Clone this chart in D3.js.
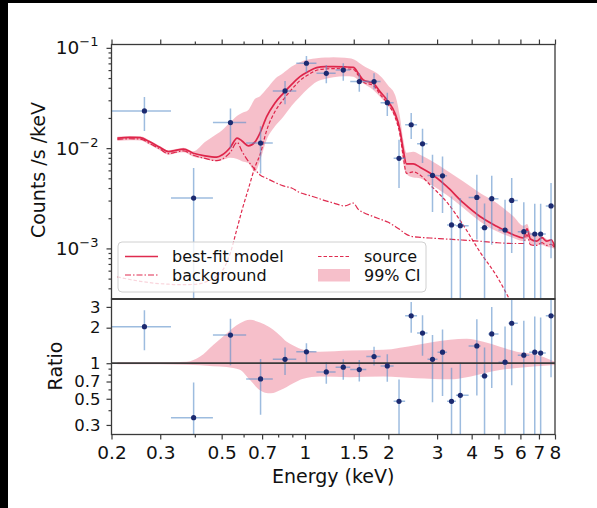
<!DOCTYPE html>
<html>
<head>
<meta charset="utf-8">
<script src="https://cdn.jsdelivr.net/npm/d3@7"></script>
<style>
body { margin: 0; background: #fff; }
svg { display: block; font-family: "DejaVu Sans", sans-serif; }
</style>
</head>
<body>
<script>
// 観測データ (ビン中心, ビン端, カウント, 誤差)
var energy = [0.263, 0.396, 0.538, 0.691, 0.847, 1.012, 1.194, 1.375, 1.571, 1.776, 1.983, 2.186, 2.419, 2.658,
	2.888, 3.139, 3.383, 3.640, 4.176, 4.452, 4.727, 5.28, 5.581, 6.172, 6.76, 7.10, 7.74];
var binEdges = [0.2, 0.328, 0.465, 0.613, 0.765, 0.930, 1.100, 1.290, 1.457, 1.665, 1.875, 2.09, 2.30, 2.54,
	2.77, 3.01, 3.26, 3.51, 3.90, 4.31, 4.59, 5.00, 5.43, 5.87, 6.46, 6.93, 7.41, 8.0];
var counts = [0.0235, 0.00318, 0.0180, 0.01122, 0.0372, 0.0702, 0.0557, 0.0601, 0.0461, 0.0461, 0.0284, 0.00792,
	0.0171, 0.01104, 0.00534, 0.00530, 0.001714, 0.001686, 0.003225, 0.00161, 0.00313, 0.001527, 0.00301,
	0.001469, 0.001393, 0.001393, 0.00265];
var countsHi = [0.0324, 0.00632, 0.0248, 0.01657, 0.0467, 0.0829, 0.0675, 0.0702, 0.0557, 0.0557, 0.0357, 0.0121,
	0.0224, 0.0156, 0.00858, 0.00825, 0.0033, 0.00318, 0.00542, 0.0028, 0.0053, 0.00306, 0.00503,
	0.00288, 0.00279, 0.00279, 0.00449];
var countsLo = [0.01486, 0.0001, 0.0100, 0.00557, 0.0274, 0.0569, 0.0443, 0.0471, 0.0366, 0.0387, 0.0209, 0.0040,
	0.0123, 0.0071, 0.00231, 0.00225, 0.0001, 0.0001, 0.00123, 0.0001, 0.00109, 0.0001, 0.00090,
	0.0001, 0.0001, 0.0001, 0.00080];
var ratio = [2.04, 0.346, 1.73, 0.736, 1.08, 1.25, 0.844, 0.925, 0.883, 1.14, 0.949, 0.476, 2.52, 1.80,
	1.08, 1.24, 0.476, 0.535, 1.40, 0.78, 1.77, 1.02, 2.18, 1.17, 1.24, 1.22, 2.52];

// モデル曲線 (エネルギーグリッド)
var modelE = [0.21, 0.233, 0.254, 0.275, 0.299, 0.321, 0.341, 0.364, 0.395, 0.435, 0.48, 0.503, 0.536, 0.569,
	0.592, 0.624, 0.66, 0.688, 0.727, 0.779, 0.835, 0.895, 0.959, 1.028, 1.102, 1.181, 1.266, 1.394, 1.495,
	1.558, 1.624, 1.765, 1.866, 2.0, 2.114, 2.203, 2.265, 2.326, 2.46, 2.603, 2.829, 3.25, 3.734, 4.288,
	4.925, 5.656, 6.15, 6.34, 6.52, 6.86, 7.18, 7.46, 7.75, 8.0];
var bestFit = [0.01258, 0.0128, 0.0127, 0.01155, 0.0102, 0.00925, 0.00951, 0.00977, 0.0089, 0.00838, 0.00813,
	0.00858, 0.0101, 0.01258, 0.0118, 0.01054, 0.01155, 0.0142, 0.0206, 0.0282, 0.0352, 0.0432, 0.0516,
	0.0581, 0.0634, 0.0649, 0.0649, 0.0645, 0.064, 0.0557, 0.0478, 0.0443, 0.0366, 0.0291, 0.0223, 0.0152,
	0.0096, 0.00698, 0.00698, 0.00644, 0.00564, 0.00415, 0.00284, 0.00208, 0.00166, 0.00137, 0.00127,
	0.00157, 0.00124, 0.00118, 0.00128, 0.00118, 0.00122, 0.001026];
var source = [5.2e-4, 4.9e-4, 4.7e-4, 4.55e-4, 4.45e-4, 4.4e-4, 4.35e-4, 4.35e-4, 4.37e-4, 4.6e-4, 5.3e-4,
	6.0e-4, 8.8e-4, 0.0016, 0.0024, 0.0039, 0.0065, 0.0086, 0.0150, 0.0232, 0.0305, 0.0385, 0.0472, 0.0540,
	0.0598, 0.0616, 0.0620, 0.0617, 0.0610, 0.0530, 0.0454, 0.0421, 0.0345, 0.0272, 0.0205, 0.0136, 0.0082,
	0.0056, 0.0058, 0.0054, 0.0043, 0.0029, 0.0017, 0.00092, 0.00053, 0.00026, 0.00016, 0.00013, 0.00011,
	8e-5, 6e-5, 5e-5, 4e-5, 3e-5];
var background = [0.0122, 0.0124, 0.0123, 0.0111, 0.0098, 0.0088, 0.0091, 0.0094, 0.0085, 0.0079, 0.0075,
	0.0078, 0.0090, 0.0114, 0.0093, 0.0074, 0.0061, 0.0054, 0.0050, 0.00455, 0.0042, 0.0040, 0.0036, 0.0034,
	0.0032, 0.0030, 0.00284, 0.00265, 0.00283, 0.00245, 0.00228, 0.00208, 0.00196, 0.00182, 0.00166,
	0.00154, 0.00145, 0.00138, 0.00131, 0.00129, 0.00127, 0.00124, 0.00121, 0.00118, 0.00114, 0.00112,
	0.00112, 0.00137, 0.00109, 0.00107, 0.00114, 0.00107, 0.00110, 0.00100];
var ciHi = [0.0130, 0.0132, 0.0131, 0.0119, 0.0105, 0.0095, 0.0098, 0.0101, 0.0093, 0.0115, 0.0138, 0.0152,
	0.0180, 0.0210, 0.0224, 0.0240, 0.0310, 0.0330, 0.0390, 0.0490, 0.0560, 0.0650, 0.0720, 0.0765, 0.0787,
	0.0800, 0.0808, 0.0795, 0.0770, 0.0720, 0.0664, 0.0587, 0.0528, 0.0420, 0.0340, 0.0206, 0.0121, 0.0090,
	0.0092, 0.0086, 0.0076, 0.0060, 0.00466, 0.00357, 0.00284, 0.00209, 0.00168, 0.00175, 0.00145, 0.00135,
	0.00132, 0.00124, 0.00120, 0.00112];
var ciLo = [0.0118, 0.0120, 0.0119, 0.0108, 0.0095, 0.0086, 0.0089, 0.0091, 0.0082, 0.0078, 0.0074, 0.0076,
	0.0080, 0.0078, 0.0074, 0.0071, 0.0058, 0.0075, 0.0121, 0.0165, 0.0206, 0.0265, 0.0326, 0.0395, 0.0460,
	0.0490, 0.0510, 0.0520, 0.0515, 0.0480, 0.0440, 0.0380, 0.0326, 0.0262, 0.0200, 0.0130, 0.0070, 0.0055,
	0.0051, 0.0050, 0.0044, 0.0034, 0.00253, 0.00186, 0.00148, 0.00127, 0.00118, 0.00125, 0.00112, 0.00108,
	0.00108, 0.00104, 0.00102, 0.00098];

// 比の信頼区間
var ratioBandE = [0.21, 0.30, 0.374, 0.418, 0.466, 0.521, 0.582, 0.633, 0.688, 0.737, 0.768, 0.812, 0.859,
	0.907, 0.986, 1.133, 1.454, 1.918, 2.531, 3.34, 3.837, 4.41, 5.06, 5.82, 6.68, 8.0];
var ratioBandHi = [1.02, 1.02, 1.03, 1.14, 1.43, 1.79, 2.18, 2.33, 2.21, 2.05, 1.92, 1.72, 1.52, 1.41, 1.30,
	1.25, 1.28, 1.30, 1.43, 1.58, 1.61, 1.52, 1.38, 1.25, 1.20, 1.03];
var ratioBandLo = [0.98, 0.98, 0.97, 0.96, 0.945, 0.93, 0.88, 0.72, 0.59, 0.557, 0.56, 0.59, 0.63, 0.677,
	0.74, 0.77, 0.76, 0.77, 0.746, 0.73, 0.76, 0.82, 0.877, 0.91, 0.936, 0.967];

// 目盛り
var xMajor = [0.2, 0.3, 0.5, 0.7, 1, 1.5, 2, 3, 4, 5, 6, 7, 8];
var xMajorLabels = ["0.2", "0.3", "0.5", "0.7", "1", "1.5", "2", "3", "4", "5", "6", "7", "8"];
var xMinor = [0.4, 0.6, 0.8, 0.9];
var yTopMajor = [1e-3, 1e-2, 1e-1];
var yTopExp = ["\u22123", "\u22122", "\u22121"];
var yRatMajor = [0.3, 0.5, 0.7, 1, 2, 3];
var yRatLabels = ["0.3", "0.5", "0.7", "1", "2", "3"];
var yRatMinor = [0.4, 0.6, 0.8, 0.9];

var RED = "#dc143c", BLUE = "#5b8fc9", NAVY = "#1c2a70", AXIS = "#3a3a3a";
var box = {left: 111.5, right: 555, top: 44.5, mid: 299, bottom: 434.5};

var svg = d3.select("body").append("svg")
	.attr("width", 597)
	.attr("height", 508);
svg.append("rect").attr("width", 597).attr("height", 508).attr("fill", "#fff");
// 画像の黒い縁
svg.append("rect").attr("x", 0).attr("y", 0).attr("width", 8).attr("height", 508).attr("fill", "#000");
svg.append("rect").attr("x", 0).attr("y", 0).attr("width", 597).attr("height", 3).attr("fill", "#000");

var x = d3.scaleLog().domain([0.2, 8]).range([box.left, box.right]);
var yTop = d3.scaleLog().domain([3.13e-4, 0.108]).range([box.mid, box.top]);
var yRat = d3.scaleLog().domain([0.249, 3.5]).range([box.bottom, box.mid]);

var defs = svg.append("defs");
defs.append("clipPath").attr("id", "clipTop").append("rect")
	.attr("x", box.left).attr("y", box.top)
	.attr("width", box.right - box.left).attr("height", box.mid - box.top);
defs.append("clipPath").attr("id", "clipRat").append("rect")
	.attr("x", box.left).attr("y", box.mid)
	.attr("width", box.right - box.left).attr("height", box.bottom - box.mid);

var gTop = svg.append("g").attr("clip-path", "url(#clipTop)");
var gRat = svg.append("g").attr("clip-path", "url(#clipRat)");
var idx = d3.range(modelE.length);

// 上段: 99% CI
gTop.append("path")
	.datum(idx)
	.attr("fill", RED)
	.attr("fill-opacity", 0.27)
	.attr("d", d3.area()
		.x(function(i){ return x(modelE[i]); })
		.y0(function(i){ return yTop(ciLo[i]); })
		.y1(function(i){ return yTop(ciHi[i]); })
		.curve(d3.curveMonotoneX));

// モデル線 (背景, ソース, ベストフィット)
function modelLine(arr){
	return d3.line()
		.x(function(i){ return x(modelE[i]); })
		.y(function(i){ return yTop(arr[i]); })
		.curve(d3.curveMonotoneX);
}
gTop.append("path").datum(idx)
	.attr("fill", "none").attr("stroke", RED).attr("stroke-opacity", 0.9)
	.attr("stroke-width", 1.2).attr("stroke-dasharray", "6,2,1.5,2")
	.attr("d", modelLine(background));
gTop.append("path").datum(idx)
	.attr("fill", "none").attr("stroke", RED).attr("stroke-opacity", 0.9)
	.attr("stroke-width", 1.2).attr("stroke-dasharray", "3.5,2")
	.attr("d", modelLine(source));
gTop.append("path").datum(idx)
	.attr("fill", "none").attr("stroke", RED).attr("stroke-opacity", 0.9)
	.attr("stroke-width", 1.7)
	.attr("d", modelLine(bestFit));

// 上段: データ点
var pts = d3.range(energy.length);
gTop.selectAll(".vbar").data(pts).enter().append("line")
	.attr("x1", function(i){ return x(energy[i]); })
	.attr("x2", function(i){ return x(energy[i]); })
	.attr("y1", function(i){ return yTop(countsLo[i]); })
	.attr("y2", function(i){ return yTop(countsHi[i]); })
	.attr("stroke", BLUE).attr("stroke-opacity", 0.6).attr("stroke-width", 1.5);
gTop.selectAll(".hbar").data(pts).enter().append("line")
	.attr("x1", function(i){ return x(binEdges[i]); })
	.attr("x2", function(i){ return x(binEdges[i + 1]); })
	.attr("y1", function(i){ return yTop(counts[i]); })
	.attr("y2", function(i){ return yTop(counts[i]); })
	.attr("stroke", BLUE).attr("stroke-opacity", 0.6).attr("stroke-width", 1.5);
gTop.selectAll(".dot").data(pts).enter().append("circle")
	.attr("cx", function(i){ return x(energy[i]); })
	.attr("cy", function(i){ return yTop(counts[i]); })
	.attr("r", 2.6)
	.attr("fill", NAVY);

// 下段: 比
var rIdx = d3.range(ratioBandE.length);
gRat.append("path")
	.datum(rIdx)
	.attr("fill", RED)
	.attr("fill-opacity", 0.27)
	.attr("d", d3.area()
		.x(function(i){ return x(ratioBandE[i]); })
		.y0(function(i){ return yRat(ratioBandLo[i]); })
		.y1(function(i){ return yRat(ratioBandHi[i]); })
		.curve(d3.curveMonotoneX));
gRat.selectAll(".vbar").data(pts).enter().append("line")
	.attr("x1", function(i){ return x(energy[i]); })
	.attr("x2", function(i){ return x(energy[i]); })
	.attr("y1", function(i){ return yRat(ratio[i] * countsLo[i] / counts[i]); })
	.attr("y2", function(i){ return yRat(ratio[i] * countsHi[i] / counts[i]); })
	.attr("stroke", BLUE).attr("stroke-opacity", 0.6).attr("stroke-width", 1.5);
gRat.selectAll(".hbar").data(pts).enter().append("line")
	.attr("x1", function(i){ return x(binEdges[i]); })
	.attr("x2", function(i){ return x(binEdges[i + 1]); })
	.attr("y1", function(i){ return yRat(ratio[i]); })
	.attr("y2", function(i){ return yRat(ratio[i]); })
	.attr("stroke", BLUE).attr("stroke-opacity", 0.6).attr("stroke-width", 1.5);
gRat.append("line")
	.attr("x1", box.left).attr("x2", box.right)
	.attr("y1", yRat(1)).attr("y2", yRat(1))
	.attr("stroke", AXIS).attr("stroke-width", 1.8);
gRat.selectAll(".dot").data(pts).enter().append("circle")
	.attr("cx", function(i){ return x(energy[i]); })
	.attr("cy", function(i){ return yRat(ratio[i]); })
	.attr("r", 2.6)
	.attr("fill", NAVY);

// 軸
function plain(g){
	g.select(".domain").remove();
	g.attr("color", AXIS).attr("font-family", "DejaVu Sans").attr("font-size", 18.5);
	g.selectAll("line").attr("stroke-width", 1.2);
}
svg.append("g").attr("transform", "translate(0," + box.bottom + ")")
	.call(d3.axisBottom(x).tickValues(xMajor).tickSize(5).tickPadding(6)
		.tickFormat(function(d, i){ return xMajorLabels[i]; }))
	.call(plain)
	.selectAll("text").attr("fill", "#111");
svg.append("g").attr("transform", "translate(0," + box.bottom + ")")
	.call(d3.axisBottom(x).tickValues(xMinor).tickSize(3).tickFormat(""))
	.call(plain);
svg.append("g").attr("transform", "translate(0," + box.top + ")")
	.call(d3.axisTop(x).tickValues(xMajor).tickSize(5).tickFormat(""))
	.call(plain);
svg.append("g").attr("transform", "translate(0," + box.top + ")")
	.call(d3.axisTop(x).tickValues(xMinor).tickSize(3).tickFormat(""))
	.call(plain);

// 上段 y軸 (10^n 表記)
var minorTop = [];
[-4, -3, -2, -1].forEach(function(p){
	for(var k = 2; k <= 9; k++){
		var v = k * Math.pow(10, p);
		if(v > 3.13e-4 && v < 0.108){ minorTop.push(v); }
	}
});
svg.append("g").attr("transform", "translate(" + box.left + ",0)")
	.call(d3.axisLeft(yTop).tickValues(yTopMajor).tickSize(5).tickFormat(""))
	.call(plain);
svg.append("g").attr("transform", "translate(" + box.left + ",0)")
	.call(d3.axisLeft(yTop).tickValues(minorTop).tickSize(3).tickFormat(""))
	.call(plain);
var yLab = svg.append("g").selectAll("text").data(yTopMajor).enter().append("text")
	.attr("x", box.left - 13)
	.attr("y", function(d){ return yTop(d) + 6.5; })
	.attr("text-anchor", "end")
	.attr("fill", "#111")
	.attr("font-size", 18.5);
yLab.append("tspan").text("10");
yLab.append("tspan").attr("dy", -8).attr("font-size", 13)
	.text(function(d, i){ return yTopExp[i]; });

// 下段 y軸 (ラベルが詰まるので少し小さめ)
svg.append("g").attr("transform", "translate(" + box.left + ",0)")
	.call(d3.axisLeft(yRat).tickValues(yRatMajor).tickSize(5).tickPadding(6)
		.tickFormat(function(d, i){ return yRatLabels[i]; }))
	.call(plain)
	.selectAll("text").attr("fill", "#111").attr("font-size", 16.5);
svg.append("g").attr("transform", "translate(" + box.left + ",0)")
	.call(d3.axisLeft(yRat).tickValues(yRatMinor).tickSize(3).tickFormat(""))
	.call(plain);

// 枠
svg.append("rect")
	.attr("x", box.left).attr("y", box.top)
	.attr("width", box.right - box.left).attr("height", box.mid - box.top)
	.attr("fill", "none").attr("stroke", AXIS).attr("stroke-width", 1.3);
svg.append("rect")
	.attr("x", box.left).attr("y", box.mid)
	.attr("width", box.right - box.left).attr("height", box.bottom - box.mid)
	.attr("fill", "none").attr("stroke", AXIS).attr("stroke-width", 1.3);
svg.append("line")
	.attr("x1", box.left).attr("x2", box.right).attr("y1", box.mid).attr("y2", box.mid)
	.attr("stroke", AXIS).attr("stroke-width", 2);

// 軸ラベル
svg.append("text")
	.attr("transform", "translate(38.5,170) rotate(-90)")
	.attr("text-anchor", "middle").attr("dy", "0.35em")
	.attr("font-size", 19).attr("fill", "#111")
	.text("Counts /s /keV");
svg.append("text")
	.attr("transform", "translate(55,366) rotate(-90)")
	.attr("text-anchor", "middle").attr("dy", "0.35em")
	.attr("font-size", 19).attr("fill", "#111")
	.text("Ratio");
svg.append("text")
	.attr("x", (box.left + box.right) / 2).attr("y", 476)
	.attr("text-anchor", "middle").attr("dy", "0.35em")
	.attr("font-size", 19).attr("fill", "#111")
	.text("Energy (keV)");

// 凡例
var lg = svg.append("g");
lg.append("rect")
	.attr("x", 118).attr("y", 242).attr("width", 308).attr("height", 50).attr("rx", 4)
	.attr("fill", "#fff").attr("fill-opacity", 0.8)
	.attr("stroke", "#d0d0d0").attr("stroke-width", 1);
lg.append("line").attr("x1", 125).attr("x2", 158).attr("y1", 256.5).attr("y2", 256.5)
	.attr("stroke", RED).attr("stroke-opacity", 0.9).attr("stroke-width", 1.7);
lg.append("line").attr("x1", 125).attr("x2", 158).attr("y1", 275).attr("y2", 275)
	.attr("stroke", RED).attr("stroke-opacity", 0.9).attr("stroke-width", 1.2)
	.attr("stroke-dasharray", "6,2,1.5,2");
lg.append("line").attr("x1", 318).attr("x2", 350).attr("y1", 256.5).attr("y2", 256.5)
	.attr("stroke", RED).attr("stroke-opacity", 0.9).attr("stroke-width", 1.2)
	.attr("stroke-dasharray", "3.5,2");
lg.append("rect").attr("x", 318).attr("y", 269).attr("width", 32).attr("height", 12.5)
	.attr("fill", RED).attr("fill-opacity", 0.27);
var legendText = [["best-fit model", 172, 256.5], ["background", 172, 275], ["source", 364, 256.5], ["99% CI", 364, 275]];
lg.selectAll(".lt").data(legendText).enter().append("text")
	.attr("x", function(d){ return d[1]; })
	.attr("y", function(d){ return d[2]; })
	.attr("dy", "0.35em")
	.attr("font-size", 16).attr("fill", "#111")
	.text(function(d){ return d[0]; });
</script>
</body>
</html>
